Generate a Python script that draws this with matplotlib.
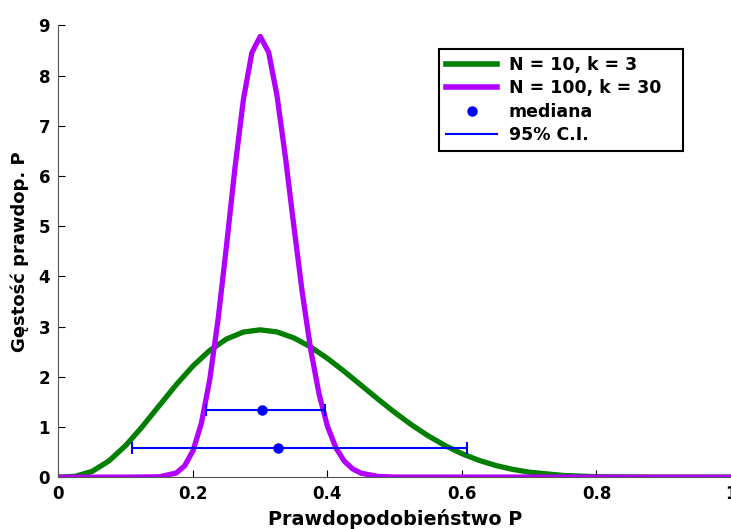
import matplotlib.pyplot as plt
from matplotlib.lines import Line2D
from matplotlib.ticker import MultipleLocator

plt.rcParams['font.family'] = ['DejaVu Sans']
plt.rcParams['font.weight'] = 'bold'

# N = 10, k = 3
p_n10 = [0, 0.025, 0.05, 0.075, 0.1, 0.125, 0.15, 0.175, 0.2, 0.225, 0.25,
         0.275, 0.3, 0.325, 0.35, 0.375, 0.4, 0.425, 0.45, 0.475, 0.5, 0.525,
         0.55, 0.575, 0.6, 0.625, 0.65, 0.675, 0.7, 0.75, 0.8, 0.85, 0.9, 1.0]
d_n10 = [0, 0.017, 0.115, 0.323, 0.631, 1.012, 1.428, 1.840, 2.215, 2.525, 2.753,
         2.891, 2.935, 2.893, 2.774, 2.593, 2.365, 2.106, 1.831, 1.555, 1.289, 1.042,
         0.821, 0.628, 0.467, 0.336, 0.233, 0.156, 0.099, 0.034, 0.009, 0.0015, 0.0001, 0]

# N = 100, k = 30
p_n100 = [0, 0.1, 0.15, 0.175, 0.1875, 0.2, 0.2125, 0.225, 0.2375, 0.25, 0.2625,
          0.275, 0.2875, 0.3, 0.3125, 0.325, 0.3375, 0.35, 0.3625, 0.375, 0.3875,
          0.4, 0.4125, 0.425, 0.4375, 0.45, 0.475, 0.5, 1.0]
d_n100 = [0, 0, 0.007, 0.082, 0.224, 0.525, 1.075, 1.949, 3.161, 4.630, 6.170,
          7.526, 8.453, 8.78, 8.464, 7.596, 6.370, 5.000, 3.679, 2.544, 1.655,
          1.012, 0.584, 0.318, 0.163, 0.079, 0.015, 0.002, 0]

# mediana i 95% przedział ufności
ci_median = [0.303, 0.326]
ci_low = [0.220, 0.110]
ci_high = [0.397, 0.608]
ci_level = [1.33, 0.585]

x_ticks = [0, 0.2, 0.4, 0.6, 0.8, 1.0]
x_ticklabels = ['0', '0.2', '0.4', '0.6', '0.8', '1']

green = '#007f00'
purple = '#b200ff'
blue = '#0000ff'

fig = plt.figure(figsize=(7.31, 5.29), dpi=100)
ax = fig.add_axes([0.080, 0.098, 0.920, 0.854])

ax.plot(p_n10, d_n10, color=green, lw=3.8, solid_capstyle='butt')
ax.plot(p_n100, d_n100, color=purple, lw=3.8, solid_capstyle='butt')

for m, lo, hi, lev in zip(ci_median, ci_low, ci_high, ci_level):
    ax.errorbar([m], [lev], xerr=[[m - lo], [hi - m]], fmt='o', color=blue,
                ms=6.5, elinewidth=1.5, capsize=4.5, capthick=1.5)

ax.set_xlim(0, 1)
ax.set_ylim(0, 9)
ax.yaxis.set_major_locator(MultipleLocator(1))
ax.set_xticks(x_ticks)
ax.set_xticklabels(x_ticklabels)
ax.tick_params(direction='in', length=5, width=0.8, labelsize=12, pad=6)
for lab in ax.get_xticklabels() + ax.get_yticklabels():
    lab.set_fontweight('bold')

ax.spines['top'].set_visible(False)
ax.spines['right'].set_visible(False)
ax.spines['left'].set_color('#555555')
ax.spines['bottom'].set_color('#555555')

ax.set_xlabel('Prawdopodobieństwo P', fontsize=13.8, fontweight='bold', labelpad=4)
ax.set_ylabel('Gęstość prawdop. P', fontsize=13, fontweight='bold', labelpad=7)

handles = [Line2D([], [], color=green, lw=4),
           Line2D([], [], color=purple, lw=4),
           Line2D([], [], color=blue, marker='o', ls='none', ms=6.5),
           Line2D([], [], color=blue, lw=1.5)]
leg = ax.legend(handles, ['N = 10, k = 3', 'N = 100, k = 30', 'mediana', '95% C.I.'],
                loc='upper left', bbox_to_anchor=(0.566, 0.5, 0.363, 0.448),
                mode='expand', borderaxespad=0,
                fancybox=False, framealpha=1, edgecolor='black', fontsize=12.5,
                handlelength=2.9, handletextpad=0.7, labelspacing=0.3,
                borderpad=0.42)
leg.get_frame().set_linewidth(1.5)
for t in leg.get_texts():
    t.set_fontweight('bold')

fig.savefig('out.png', dpi=100)
